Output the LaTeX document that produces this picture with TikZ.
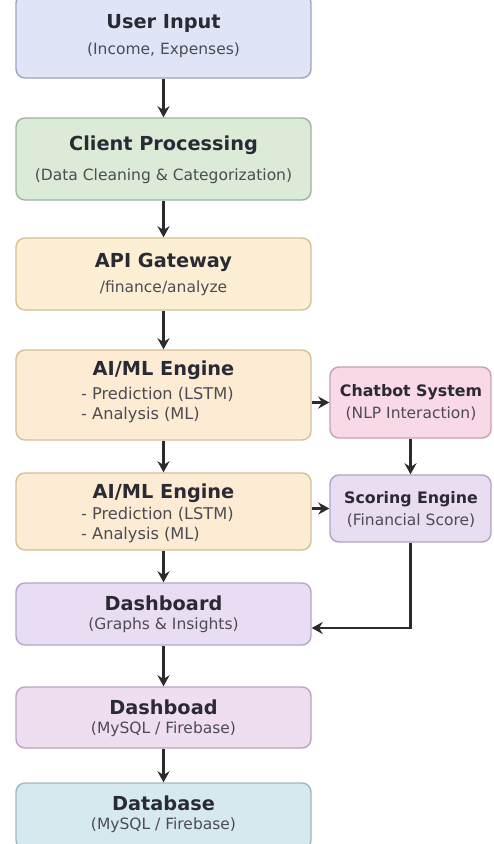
\documentclass[tikz,border=0pt]{standalone}
\usepackage{fontspec}
\setmainfont{DejaVu Sans}
\usetikzlibrary{arrows.meta}
\definecolor{txtdark}{HTML}{2A2A35}
\definecolor{txtsub}{HTML}{4C4C52}
\definecolor{linec}{HTML}{2B2B2B}
\definecolor{userfill}{HTML}{DFE5F7}\definecolor{userdraw}{HTML}{9AA5C0}
\definecolor{clientfill}{HTML}{DCEBD8}\definecolor{clientdraw}{HTML}{9DB59A}
\definecolor{apifill}{HTML}{FCEFD3}\definecolor{apidraw}{HTML}{D6C096}
\definecolor{aifill}{HTML}{FDEBD3}\definecolor{aidraw}{HTML}{D8BE98}
\definecolor{chatfill}{HTML}{F9D8E8}\definecolor{chatdraw}{HTML}{C9A0B5}
\definecolor{scorefill}{HTML}{E9DDF2}\definecolor{scoredraw}{HTML}{B4A2C4}
\definecolor{dashfill}{HTML}{E9DDF3}\definecolor{dashdraw}{HTML}{B7A5C7}
\definecolor{dbfill}{HTML}{EFDDF0}\definecolor{dbdraw}{HTML}{BBA3C3}
\definecolor{basefill}{HTML}{D6E9EF}\definecolor{basedraw}{HTML}{9FB7C0}
\tikzset{
  mainbox/.style={draw, rounded corners=9pt, line width=1.4pt, minimum width=295pt, inner sep=0pt},
  sidebox/.style={draw, rounded corners=9pt, line width=1.4pt, minimum width=161pt, inner sep=0pt},
  ttl/.style={font=\fontsize{19.3}{21}\selectfont\bfseries, text=txtdark, inner sep=0pt},
  sttl/.style={font=\fontsize{15.8}{17}\selectfont\bfseries, text=txtdark, inner sep=0pt},
  sub/.style={font=\fontsize{15.5}{17}\selectfont, text=txtsub, inner sep=0pt},
  item/.style={font=\fontsize{16.2}{18}\selectfont, text=txtsub, inner sep=0pt, anchor=west},
  ssub/.style={font=\fontsize{15.5}{17}\selectfont, text=txtsub, inner sep=0pt},
  arr/.style={draw=linec, line width=2.2pt, -{Stealth[length=11pt,width=12pt]}}
}
\begin{document}
\begin{tikzpicture}[x=1pt,y=-1pt]
\useasboundingbox[fill=white] (0,0) rectangle (494,844);
% boxes
\node[mainbox, fill=userfill, draw=userdraw, minimum height=84pt] (user) at (163.5,36) {};
\node[mainbox, fill=clientfill, draw=clientdraw, minimum height=82pt] (client) at (163.5,159) {};
\node[mainbox, fill=apifill, draw=apidraw, minimum height=72pt] (api) at (163.5,274) {};
\node[mainbox, fill=aifill, draw=aidraw, minimum height=90pt] (ai1) at (163.5,395) {};
\node[mainbox, fill=aifill, draw=aidraw, minimum height=77pt] (ai2) at (163.5,511.5) {};
\node[mainbox, fill=dashfill, draw=dashdraw, minimum height=62pt] (dash) at (163.5,614) {};
\node[mainbox, fill=dbfill, draw=dbdraw, minimum height=61pt] (dashb) at (163.5,717.5) {};
\node[mainbox, fill=basefill, draw=basedraw, minimum height=66pt] (base) at (163.5,816) {};
\node[sidebox, fill=chatfill, draw=chatdraw, minimum height=71pt] (chat) at (410.5,402.5) {};
\node[sidebox, fill=scorefill, draw=scoredraw, minimum height=67pt] (score) at (410.5,508.5) {};
% texts
\node[ttl] (userT) at (163.5,23) {User Input};
\node[sub] (userS) at (163.5,50) {(Income, Expenses)};
\node[ttl] (clientT) at (163.5,145) {Client Processing};
\node[sub] (clientS) at (163.5,176) {(Data Cleaning \& Categorization)};
\node[ttl] (apiT) at (163.5,262) {API Gateway};
\node[sub] (apiS) at (163.5,288) {/finance/analyze};
\node[ttl] (ai1T) at (163.5,370) {AI/ML Engine};
\node[item] (ai1A) at (81,394) {- Prediction (LSTM)};
\node[item] (ai1B) at (81,415) {- Analysis (ML)};
\node[ttl] (ai2T) at (163.5,493) {AI/ML Engine};
\node[item] (ai2A) at (81,514) {- Prediction (LSTM)};
\node[item] (ai2B) at (81,535) {- Analysis (ML)};
\node[ttl] (dashT) at (163.5,603) {Dashboard};
\node[sub] (dashS) at (163.5,625) {(Graphs \& Insights)};
\node[ttl] (dashbT) at (163.5,707) {Dashboad};
\node[sub] (dashbS) at (163.5,729) {(MySQL / Firebase)};
\node[ttl] (baseT) at (163.5,803) {Database};
\node[sub] (baseS) at (163.5,825) {(MySQL / Firebase)};
\node[sttl] (chatT) at (411,392) {Chatbot System};
\node[ssub] (chatS) at (411,414) {(NLP Interaction)};
\node[sttl] (scoreT) at (411,499) {Scoring Engine};
\node[ssub] (scoreS) at (411,521) {(Financial Score)};
% connectors
\draw[arr] (user) -- (client);
\draw[arr] (client) -- (api);
\draw[arr] (api) -- (ai1);
\draw[arr] (ai1) -- (ai2);
\draw[arr] (ai2) -- (dash);
\draw[arr] (dash) -- (dashb);
\draw[arr] (dashb) -- (base);
\draw[arr] (ai1.east |- chat.west) -- (chat.west);
\draw[arr] (ai2.east |- score.west) -- (score.west);
\draw[arr] (chat.south) -- (score.north);
\draw[arr] (score.south) |- ([yshift=-14pt]dash.east);
\end{tikzpicture}
\end{document}
